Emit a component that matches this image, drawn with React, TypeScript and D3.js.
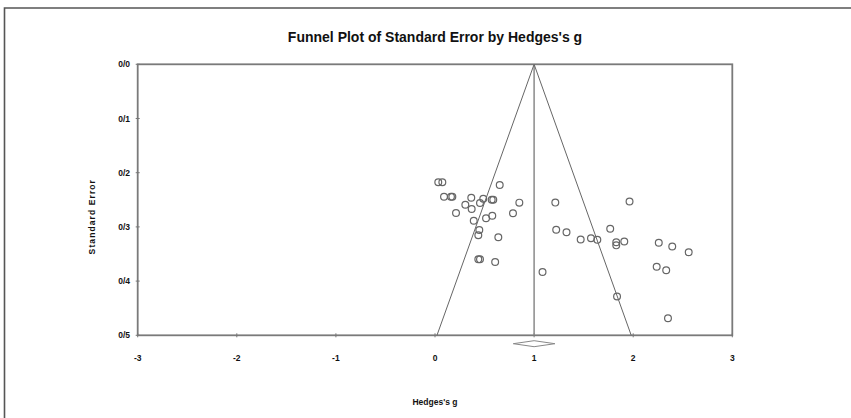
import React from "react";
import * as d3 from "d3";

const hedgesG = [
  0.033, 0.074, 0.091, 0.161, 0.175, 0.366, 0.487, 0.572, 0.588, 0.653,
  0.851, 0.306, 0.37, 0.454, 0.212, 0.391, 0.515, 0.578, 0.787, 0.447,
  0.437, 0.639, 0.437, 0.454, 0.607, 1.085, 1.214, 1.963, 1.223, 1.327,
  1.47, 1.574, 1.638, 1.768, 1.829, 1.829, 1.91, 2.258, 2.394, 2.56,
  2.237, 2.333, 1.837, 2.351,
];
const standardError = [
  0.2177, 0.2177, 0.2443, 0.2443, 0.2443, 0.2461, 0.2482, 0.2498, 0.2498, 0.2227,
  0.2553, 0.259, 0.267, 0.256, 0.2744, 0.2886, 0.2841, 0.2793, 0.2749, 0.3057,
  0.3155, 0.3192, 0.3598, 0.3598, 0.3648, 0.3832, 0.2552, 0.2531, 0.3052, 0.31,
  0.3232, 0.321, 0.3236, 0.3033, 0.3284, 0.334, 0.327, 0.3292, 0.3362, 0.3469,
  0.3734, 0.38, 0.4284, 0.4686,
];
const xTicks = [-3, -2, -1, 0, 1, 2, 3];
const yTicks = [0, 0.1, 0.2, 0.3, 0.4, 0.5];
const yTickLabels = ["0/0", "0/1", "0/2", "0/3", "0/4", "0/5"];
const pooledEffect = 1.0;
const pooledHalfCI = 0.21;
const maxSE = 0.5;
const title = "Funnel Plot of Standard Error by Hedges's g";
const xTitle = "Hedges's g";
const yTitle = "Standard Error";

const W = 851;
const H = 418;
const left = 137.7;
const right = 732.3;
const top = 64.3;
const bottom = 335.3;
const font = "'Liberation Sans', Arial, sans-serif";

export default function App() {
  const x = d3.scaleLinear().domain([-3, 3]).range([left, right]);
  const y = d3.scaleLinear().domain([0, maxSE]).range([top, bottom]);
  const funnel = d3.line<[number, number]>()
    .x((d) => x(d[0]))
    .y((d) => y(d[1]));
  const funnelPts: [number, number][] = [
    [pooledEffect - 1.96 * maxSE, maxSE],
    [pooledEffect, 0],
    [pooledEffect + 1.96 * maxSE, maxSE],
  ];
  const dy = 343.7;
  const diamond = [
    [x(pooledEffect - pooledHalfCI), dy],
    [x(pooledEffect), dy - 3],
    [x(pooledEffect + pooledHalfCI), dy],
    [x(pooledEffect), dy + 3],
  ]
    .map((p) => p.join(","))
    .join(" ");

  return (
    <div style={{ position: "fixed", left: 0, top: 0 }}>
      <svg width={W} height={H} style={{ display: "block", background: "#fff" }}>
        <path d={`M4.5,${H} L4.5,8 L${W},8`} fill="none" stroke="#555" strokeWidth={1.6} />
        <text x={(left + right) / 2} y={42} textAnchor="middle" fontFamily={font} fontWeight="bold" fontSize={14} fill="#111">
          {title}
        </text>
        <rect x={left} y={top} width={right - left} height={bottom - top} fill="none" stroke="#7a7a7a" strokeWidth={1.8} />
        {xTicks.map((t) => (
          <g key={"x" + t}>
            <line x1={x(t)} x2={x(t)} y1={bottom - 2} y2={bottom + 2} stroke="#777" strokeWidth={1} />
            <text x={x(t)} y={361} textAnchor="middle" fontFamily={font} fontWeight="bold" fontSize={8.5} fill="#111">
              {t}
            </text>
          </g>
        ))}
        {yTicks.map((t, i) => (
          <g key={"y" + t}>
            <line x1={left - 2} x2={left + 2} y1={y(t)} y2={y(t)} stroke="#777" strokeWidth={1} />
            <text x={130} y={y(t) + 3} textAnchor="end" fontFamily={font} fontWeight="bold" fontSize={8.5} fill="#111">
              {yTickLabels[i]}
            </text>
          </g>
        ))}
        <line x1={x(pooledEffect)} x2={x(pooledEffect)} y1={y(0)} y2={y(maxSE)} stroke="#8a8a8a" strokeWidth={1.5} />
        <path d={funnel(funnelPts) || ""} fill="none" stroke="#666" strokeWidth={1} />
        {hedgesG.map((g, i) => (
          <circle key={i} cx={x(g)} cy={y(standardError[i])} r={3.4} fill="none" stroke="#666" strokeWidth={1.2} />
        ))}
        <polygon points={diamond} fill="#fff" stroke="#888" strokeWidth={1} />
        <text x={(left + right) / 2} y={405} textAnchor="middle" fontFamily={font} fontWeight="bold" fontSize={8.5} fill="#111">
          {xTitle}
        </text>
        <text
          transform={`translate(95,216.7) rotate(-90)`}
          textAnchor="middle"
          fontFamily={font}
          fontWeight="bold"
          fontSize={8.5}
          letterSpacing={1.1}
          fill="#111"
        >
          {yTitle}
        </text>
      </svg>
    </div>
  );
}
